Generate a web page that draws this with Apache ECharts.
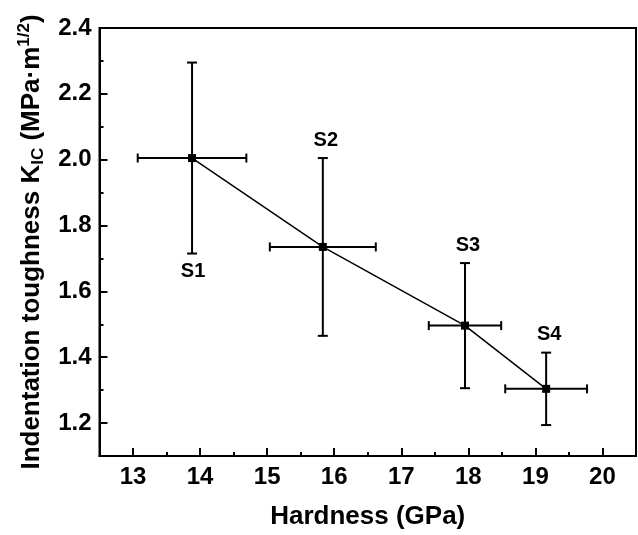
<!DOCTYPE html>
<html>
<head>
<meta charset="utf-8">
<script src="https://cdn.jsdelivr.net/npm/echarts@6/dist/echarts.min.js"></script>
<style>
  html, body { margin: 0; padding: 0; background: #fff; }
  #chart { width: 638px; height: 535px; }
</style>
</head>
<body>
<div id="chart"></div>
<script>
// Samples S1–S4: hardness vs indentation toughness with error bars
const sampleNames = ['S1', 'S2', 'S3', 'S4'];
const hardness = [13.88, 15.83, 17.95, 19.16];
const hardnessErr = [0.81, 0.79, 0.54, 0.61];
const toughness = [2.005, 1.735, 1.496, 1.304];
const toughnessErr = [0.29, 0.27, 0.19, 0.11];
const labelSide = ['below', 'above', 'above', 'above'];

const xMajorTicks = [13, 14, 15, 16, 17, 18, 19, 20];
const xMinorTicks = [13.5, 14.5, 15.5, 16.5, 17.5, 18.5, 19.5];
const yMajorTicks = [1.2, 1.4, 1.6, 1.8, 2.0, 2.2, 2.4];
const yMinorTicks = [1.3, 1.5, 1.7, 1.9, 2.1, 2.3];

const FONT = '"Liberation Sans", Arial, sans-serif';

const points = hardness.map((h, i) => [h, toughness[i], hardnessErr[i], toughnessErr[i], i]);

const chart = echarts.init(document.getElementById('chart'), null, { renderer: 'canvas' });

const baseX = {
  type: 'value', min: 12.5, max: 20.5, gridIndex: 0, position: 'bottom',
  splitLine: { show: false }
};
const baseY = {
  type: 'value', min: 1.1, max: 2.4, gridIndex: 0, position: 'left',
  splitLine: { show: false }
};

// Cross-shaped error bars with end caps, plus the sample label
function errorBars(params, api) {
  const x = api.value(0), y = api.value(1), ex = api.value(2), ey = api.value(3);
  const idx = api.value(4);
  const c = api.coord([x, y]);
  const top = api.coord([x, y + ey]);
  const bot = api.coord([x, y - ey]);
  const left = api.coord([x - ex, y]);
  const right = api.coord([x + ex, y]);
  const st = { stroke: '#000', lineWidth: 2 };
  const capV = 5, capH = 4.5;
  const children = [
    { type: 'line', shape: { x1: c[0], y1: top[1], x2: c[0], y2: bot[1] }, style: st },
    { type: 'line', shape: { x1: c[0] - capV, y1: top[1], x2: c[0] + capV, y2: top[1] }, style: st },
    { type: 'line', shape: { x1: c[0] - capV, y1: bot[1], x2: c[0] + capV, y2: bot[1] }, style: st },
    { type: 'line', shape: { x1: left[0], y1: c[1], x2: right[0], y2: c[1] }, style: st },
    { type: 'line', shape: { x1: left[0], y1: c[1] - capH, x2: left[0], y2: c[1] + capH }, style: st },
    { type: 'line', shape: { x1: right[0], y1: c[1] - capH, x2: right[0], y2: c[1] + capH }, style: st }
  ];
  const below = labelSide[idx] === 'below';
  children.push({
    type: 'text',
    style: {
      x: c[0] + (below ? 1 : 3),
      y: below ? bot[1] + 18 : top[1] - 18,
      text: sampleNames[idx],
      fill: '#000',
      font: 'bold 20px ' + FONT,
      align: 'center',
      verticalAlign: 'middle'
    }
  });
  return { type: 'group', children };
}

const tickStyle = { color: '#000', width: 2 };
const labelFont = { fontFamily: FONT, fontWeight: 'bold', fontSize: 24, color: '#000' };

chart.setOption({
  animation: false,
  backgroundColor: '#fff',
  grid: {
    left: 99.5, right: 2, top: 28, bottom: 76,
    show: true, borderColor: '#000', borderWidth: 2, backgroundColor: 'transparent'
  },
  xAxis: [
    Object.assign({}, baseX, {
      name: 'Hardness (GPa)',
      nameLocation: 'middle',
      nameGap: 48,
      nameTextStyle: { fontFamily: FONT, fontWeight: 'bold', fontSize: 26, color: '#000' },
      axisLine: { show: true, onZero: false, lineStyle: { color: '#000', width: 2 } },
      axisTick: { show: true, inside: true, length: 8, lineStyle: tickStyle, customValues: xMajorTicks },
      axisLabel: Object.assign({ show: true, margin: 9, customValues: xMajorTicks, formatter: v => String(v) }, labelFont)
    }),
    Object.assign({}, baseX, {
      axisLine: { show: false },
      axisTick: { show: true, inside: true, length: 4, lineStyle: tickStyle, customValues: xMinorTicks },
      axisLabel: { show: false }
    })
  ],
  yAxis: [
    Object.assign({}, baseY, {
      name: '{t|Indentation toughness K}{sub|IC}{t| (MPa·m}{sup|1/2}{t|)}',
      nameLocation: 'middle',
      nameRotate: 90,
      nameGap: 50,
      nameTextStyle: {
        color: '#000',
        rich: {
          t: { fontFamily: FONT, fontWeight: 'bold', fontSize: 26, lineHeight: 31, color: '#000' },
          sub: { fontFamily: FONT, fontWeight: 'bold', fontSize: 17, color: '#000', verticalAlign: 'bottom', lineHeight: 17 },
          sup: { fontFamily: FONT, fontWeight: 'bold', fontSize: 17, color: '#000', verticalAlign: 'top', lineHeight: 17 }
        }
      },
      axisLine: { show: true, onZero: false, lineStyle: { color: '#000', width: 2 } },
      axisTick: { show: true, inside: true, length: 8, lineStyle: tickStyle, customValues: yMajorTicks },
      axisLabel: Object.assign({ show: true, margin: 8, customValues: yMajorTicks, formatter: v => v.toFixed(1) }, labelFont)
    }),
    Object.assign({}, baseY, {
      axisLine: { show: false },
      axisTick: { show: true, inside: true, length: 4, lineStyle: tickStyle, customValues: yMinorTicks },
      axisLabel: { show: false }
    })
  ],
  series: [
    {
      type: 'custom',
      xAxisIndex: 0, yAxisIndex: 0,
      renderItem: errorBars,
      data: points,
      z: 3
    },
    {
      type: 'line',
      xAxisIndex: 0, yAxisIndex: 0,
      data: hardness.map((h, i) => [h, toughness[i]]),
      symbol: 'rect',
      symbolSize: 8,
      itemStyle: { color: '#000' },
      lineStyle: { color: '#000', width: 1.5 },
      z: 4
    }
  ]
});
</script>
</body>
</html>
